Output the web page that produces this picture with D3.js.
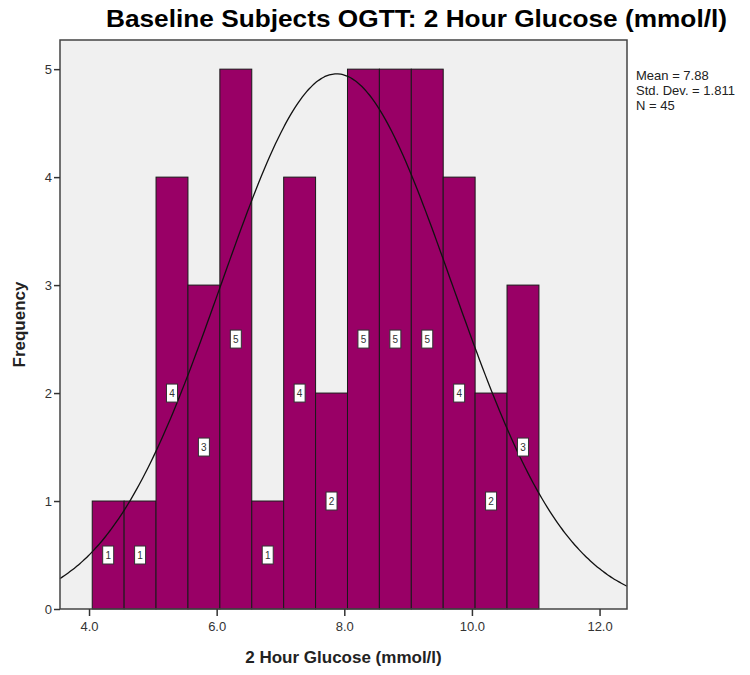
<!DOCTYPE html>
<html>
<head>
<meta charset="utf-8">
<script src="https://cdn.jsdelivr.net/npm/d3@7"></script>
<style>
  body { margin: 0; background: #fff; }
  text { font-family: Arial, "Liberation Sans", sans-serif; }
</style>
</head>
<body>
<script>
// histogram bins (mmol/l), width 0.5
const binStart = 4.05
const binWidth = 0.5
const frequencies = [1, 1, 4, 3, 5, 1, 4, 2, 5, 5, 5, 4, 2, 3]

// axis ticks
const xTicks = [4, 6, 8, 10, 12]
const yTicks = [0, 1, 2, 3, 4, 5]

// summary statistics shown next to the plot
const mean = 7.88
const stdDev = 1.811
const n = 45
const statLines = ['Mean = 7.88', 'Std. Dev. = 1.811', 'N = 45']

const title = 'Baseline Subjects OGTT: 2 Hour Glucose (mmol/l)'
const xLabel = '2 Hour Glucose (mmol/l)'
const yLabel = 'Frequency'

const w = 750
const h = 675
const plot = { left: 60, right: 627, top: 40, bottom: 609 }

const svg = d3.select('body')
  .append('svg')
  .attr('width', w)
  .attr('height', h)

const xScale = d3.scaleLinear()
  .domain([3.545, 12.43])
  .range([plot.left, plot.right])

const yScale = d3.scaleLinear()
  .domain([0, 5.27])
  .range([plot.bottom, plot.top])

// plot background
svg.append('rect')
  .attr('x', plot.left)
  .attr('y', plot.top)
  .attr('width', plot.right - plot.left)
  .attr('height', plot.bottom - plot.top)
  .style('fill', '#f0f0f0')

const bins = frequencies.map((f, i) => ({
  x0: binStart + i * binWidth,
  x1: binStart + (i + 1) * binWidth,
  f: f
}))

svg.selectAll('rect.bar')
  .data(bins)
  .enter()
  .append('rect')
  .attr('class', 'bar')
  .attr('x', d => xScale(d.x0))
  .attr('y', d => yScale(d.f))
  .attr('width', d => xScale(d.x1) - xScale(d.x0))
  .attr('height', d => yScale(0) - yScale(d.f))
  .style('fill', '#990066')
  .style('stroke', '#1a1a1a')
  .style('stroke-width', 1)

// normal curve scaled to counts
const scale = n * binWidth / (stdDev * Math.sqrt(2 * Math.PI))
const curveX = d3.range(0, 201).map(i => 3.545 + i * (12.43 - 3.545) / 200)
const line = d3.line()
  .x(d => xScale(d))
  .y(d => yScale(scale * Math.exp(-0.5 * Math.pow((d - mean) / stdDev, 2))))
  .curve(d3.curveBasis)

svg.append('path')
  .datum(curveX)
  .attr('d', line)
  .style('fill', 'none')
  .style('stroke', '#111')
  .style('stroke-width', 1.3)

// count labels in the middle of each bar
const lab = svg.selectAll('g.lab')
  .data(bins)
  .enter()
  .append('g')
  .attr('class', 'lab')
  .attr('transform', d => `translate(${xScale((d.x0 + d.x1) / 2)},${yScale(d.f / 2)})`)

lab.append('rect')
  .attr('x', -5.5)
  .attr('y', -9)
  .attr('width', 11)
  .attr('height', 18)
  .style('fill', 'white')
  .style('stroke', '#333')
  .style('stroke-width', 1)

lab.append('text')
  .attr('y', 4)
  .attr('text-anchor', 'middle')
  .style('font-size', '10px')
  .style('fill', '#333')
  .text(d => d.f)

// frame
svg.append('rect')
  .attr('x', plot.left)
  .attr('y', plot.top)
  .attr('width', plot.right - plot.left)
  .attr('height', plot.bottom - plot.top)
  .style('fill', 'none')
  .style('stroke', '#444')
  .style('stroke-width', 1.5)

// axes
const xAxis = d3.axisBottom(xScale)
  .tickValues(xTicks)
  .tickSize(7)
  .tickSizeOuter(0)
  .tickFormat(d3.format('.1f'))

svg.append('g')
  .attr('transform', `translate(0,${plot.bottom})`)
  .call(xAxis)
  .call(g => g.select('.domain').remove())
  .call(g => g.selectAll('line').style('stroke', '#333').style('stroke-width', 1.5))
  .call(g => g.selectAll('text').style('font-size', '13px').style('fill', '#333').attr('dy', '0.95em'))

const yAxis = d3.axisLeft(yScale)
  .tickValues(yTicks)
  .tickSize(6)
  .tickSizeOuter(0)
  .tickFormat(d3.format('d'))

svg.append('g')
  .attr('transform', `translate(${plot.left},0)`)
  .call(yAxis)
  .call(g => g.select('.domain').remove())
  .call(g => g.selectAll('line').style('stroke', '#333').style('stroke-width', 1.5))
  .call(g => g.selectAll('text').style('font-size', '13px').style('fill', '#333').attr('x', -8))

// title and axis labels
svg.append('text')
  .attr('x', 106)
  .attr('y', 27)
  .attr('textLength', 621)
  .attr('lengthAdjust', 'spacingAndGlyphs')
  .style('font-size', '24px')
  .style('font-weight', 'bold')
  .text(title)

svg.append('text')
  .attr('x', (plot.left + plot.right) / 2)
  .attr('y', 663)
  .attr('text-anchor', 'middle')
  .style('font-size', '17px')
  .style('font-weight', 'bold')
  .style('fill', '#222')
  .text(xLabel)

svg.append('text')
  .attr('transform', `translate(25,${(plot.top + plot.bottom) / 2}) rotate(-90)`)
  .attr('text-anchor', 'middle')
  .style('font-size', '17px')
  .style('font-weight', 'bold')
  .style('fill', '#222')
  .text(yLabel)

// stats block
svg.selectAll('text.stat')
  .data(statLines)
  .enter()
  .append('text')
  .attr('class', 'stat')
  .attr('x', 636)
  .attr('y', (d, i) => 80 + i * 15)
  .style('font-size', '13px')
  .style('fill', '#222')
  .text(d => d)
</script>
</body>
</html>
